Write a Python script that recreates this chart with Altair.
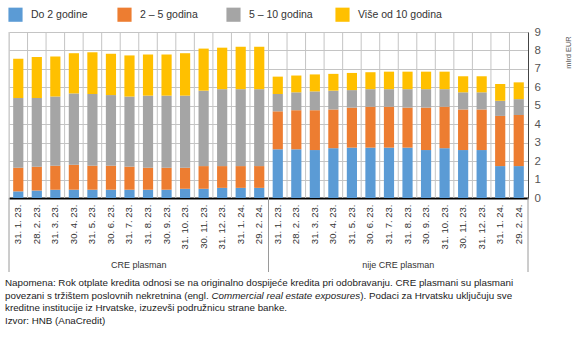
import altair as alt
import pandas as pd

dates = ["31. 1. 23.", "28. 2. 23.", "31. 3. 23.", "30. 4. 23.", "31. 5. 23.", "30. 6. 23.",
         "31. 7. 23.", "31. 8. 23.", "30. 9. 23.", "31. 10. 23.", "30. 11. 23.", "31. 12. 23.",
         "31. 1. 24.", "29. 2. 24."]
groups = ["CRE plasman", "nije CRE plasman"]
series = ["Do 2 godine", "2 – 5 godina", "5 – 10 godina", "Više od 10 godina"]
colors = ["#5B9BD5", "#ED7D31", "#A5A5A5", "#FFC000"]

cre_do2 = [0.36, 0.40, 0.45, 0.45, 0.45, 0.45, 0.45, 0.45, 0.45, 0.50, 0.50, 0.55, 0.55, 0.55]
cre_2_5 = [1.28, 1.30, 1.30, 1.35, 1.30, 1.30, 1.25, 1.19, 1.19, 1.14, 1.23, 1.18, 1.18, 1.18]
cre_5_10 = [3.78, 3.72, 3.75, 3.87, 3.89, 3.83, 3.80, 3.91, 3.91, 3.91, 4.09, 4.17, 4.17, 4.17]
cre_10p = [2.13, 2.22, 2.17, 2.18, 2.26, 2.24, 2.23, 2.23, 2.23, 2.30, 2.28, 2.25, 2.30, 2.30]

nije_do2 = [2.64, 2.64, 2.60, 2.70, 2.73, 2.73, 2.73, 2.73, 2.60, 2.70, 2.60, 2.60, 1.73, 1.73]
nije_2_5 = [2.06, 2.12, 2.16, 2.10, 2.17, 2.22, 2.22, 2.17, 2.30, 2.25, 2.20, 2.20, 2.72, 2.77]
nije_5_10 = [0.94, 0.97, 1.02, 1.02, 0.95, 0.95, 0.95, 1.00, 1.00, 0.95, 0.93, 0.93, 0.82, 0.86]
nije_10p = [0.94, 0.91, 0.92, 0.91, 0.93, 0.92, 0.95, 0.95, 0.95, 0.95, 0.87, 0.87, 0.91, 0.91]

y_ticks = [0, 1, 2, 3, 4, 5, 6, 7, 8, 9]
y_title = "mlrd EUR"
footnote = [
    "Napomena: Rok otplate kredita odnosi se na originalno dospijeće kredita pri odobravanju. CRE plasmani su plasmani",
    "povezani s tržištem poslovnih nekretnina (engl. ",
    "kreditne institucije iz Hrvatske, izuzevši podružnicu strane banke.",
    "Izvor: HNB (AnaCredit)",
]
footnote_italic = "Commercial real estate exposures"
footnote_rest = "). Podaci za Hrvatsku uključuju sve"

FONT = "Liberation Sans, Arial, sans-serif"
FN = 9.8

W, H = 519, 166

keys = ["C|" + d for d in dates] + ["N|" + d for d in dates]
rows = []
for g, vals in [("C", [cre_do2, cre_2_5, cre_5_10, cre_10p]),
                ("N", [nije_do2, nije_2_5, nije_5_10, nije_10p])]:
    for si, s in enumerate(series):
        for di, d in enumerate(dates):
            rows.append({"key": g + "|" + d, "serija": s, "ord": si, "v": vals[si][di]})
df = pd.DataFrame(rows)

xscale = alt.Scale(domain=keys, paddingInner=0, paddingOuter=0)
xaxis = alt.Axis(labelExpr="slice(datum.value, 2)", labelAngle=270, ticks=False,
                 grid=False, domainColor="#000000", domainWidth=2,
                 labelFont=FONT, labelFontSize=9.5, labelColor="#333333",
                 labelPadding=6, title=None)

kdf = pd.DataFrame({"key": keys})
vgrid = alt.Chart(kdf).mark_rule(color="#c4c4c4", strokeWidth=1).encode(
    x=alt.X("key:N", scale=xscale, sort=keys, bandPosition=0, axis=xaxis),
    y=alt.value(0), y2=alt.value(H),
)

bars = alt.Chart(df).mark_bar(width=alt.RelativeBandSize(0.55)).encode(
    x=alt.X("key:N", scale=xscale, sort=keys, axis=xaxis),
    y=alt.Y("v:Q", stack="zero", scale=alt.Scale(domain=[0, 9], nice=False),
            axis=alt.Axis(orient="right", values=y_ticks, title=y_title, ticks=False,
                          gridColor="#c4c4c4", gridWidth=1, domainColor="#444444",
                          labelFont=FONT, labelFontSize=11.5, labelColor="#555555",
                          labelPadding=6, titleFont=FONT, titleFontSize=7.5,
                          titleFontWeight="normal", titleColor="#555555",
                          titleAngle=270, titleX=40, titleY=20, titleAlign="center",
                          titleBaseline="middle")),
    color=alt.Color("serija:N", scale=alt.Scale(domain=series, range=colors),
                    legend=alt.Legend(title=None, orient="none", legendX=-1, legendY=-25,
                                      direction="horizontal", columns=4, gridAlign="all",
                                      columnPadding=2, symbolType="square",
                                      symbolSize=200, symbolStrokeWidth=0, labelFont=FONT,
                                      labelFontSize=10.5, labelColor="#333333",
                                      labelOffset=8)),
    order=alt.Order("ord:Q"),
)

sep_df = pd.DataFrame({"key": [keys[0], keys[14]]})
seps = alt.Chart(sep_df).mark_rule(color="#9a9a9a", strokeWidth=1).encode(
    x=alt.X("key:N", scale=xscale, sort=keys, bandPosition=0, axis=xaxis),
    y=alt.value(H), y2=alt.value(H + 74),
)
right_sep = alt.Chart(pd.DataFrame({"k": [0]})).mark_rule(color="#9a9a9a", strokeWidth=1).encode(
    x=alt.value(W), y=alt.value(H), y2=alt.value(H + 74),
)

gdf = pd.DataFrame({"g": groups, "key": [keys[7], keys[21]]})
glabels = alt.Chart(gdf).mark_text(font=FONT, fontSize=9, color="#333333", baseline="middle").encode(
    x=alt.X("key:N", scale=xscale, sort=keys, bandPosition=0, axis=xaxis),
    y=alt.value(H + 67), text="g:N",
)

fdf = pd.DataFrame({"t": footnote, "i": list(range(len(footnote)))})
fnote = alt.Chart(fdf).mark_text(font=FONT, fontSize=FN, color="#222222", align="left",
                                 baseline="middle").encode(
    x=alt.value(-4),
    y=alt.Y("i:Q", scale=alt.Scale(domain=[0, 3], range=[251, 289]), axis=None),
    text="t:N",
)
fi = alt.Chart(pd.DataFrame({"t": [footnote_italic]})).mark_text(
    font=FONT, fontSize=FN, color="#222222", align="left", baseline="middle", fontStyle="italic"
).encode(x=alt.value(202.5), y=alt.value(251 + 38 / 3), text="t:N")
fr = alt.Chart(pd.DataFrame({"t": [footnote_rest]})).mark_text(
    font=FONT, fontSize=FN, color="#222222", align="left", baseline="middle"
).encode(x=alt.value(351.2), y=alt.value(251 + 38 / 3), text="t:N")

chart = alt.layer(vgrid, seps, right_sep, bars, glabels, fnote, fi, fr).resolve_scale(
    y="independent"
).properties(
    width=W, height=H,
    autosize=alt.AutoSizeParams(type="none"),
    padding={"left": 9, "top": 32, "right": 49, "bottom": 139},
).configure_view(stroke=None).configure(background="white")

chart.save("out.html", embed_options={"renderer": "svg", "actions": False})
